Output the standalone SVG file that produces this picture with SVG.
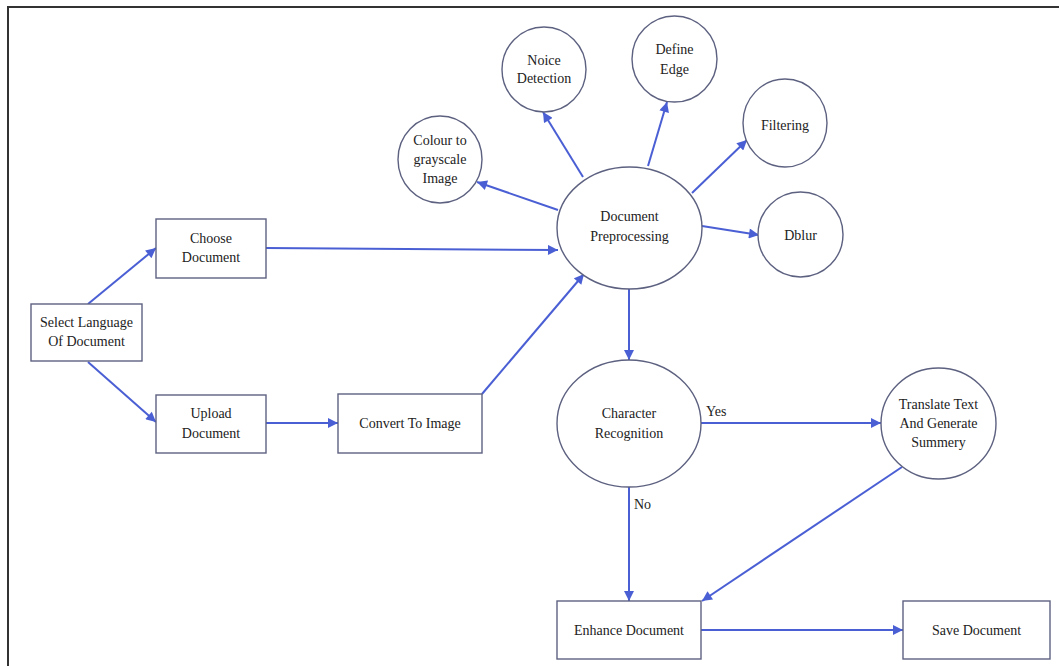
<svg xmlns="http://www.w3.org/2000/svg" width="1059" height="666" viewBox="0 0 1059 666" font-family="Liberation Serif, Times New Roman, Times, serif">
<defs>
<style>
.n{fill:#fff;stroke:#5d6180;stroke-width:1.4}
.t{font-size:14px;fill:#222;text-anchor:middle}
.c{fill:none;stroke:#4b5fd4;stroke-width:2;marker-end:url(#ah)}
.lbl{font-size:14px;fill:#222}
</style>
<marker id="ah" viewBox="0 0 10 10" refX="10" refY="5" markerWidth="11" markerHeight="10" markerUnits="userSpaceOnUse" orient="auto">
<path d="M0,0 L10,5 L0,10 z" fill="#4b5fd4"/>
</marker>
</defs>
<rect width="1059" height="666" fill="#fff"/>
<path d="M8,666 L8,7 L1059,7" fill="none" stroke="#333" stroke-width="2"/>

<g id="connectors">
<line class="c" x1="88" y1="304" x2="156" y2="248"/>
<line class="c" x1="88" y1="362" x2="156" y2="422"/>
<line class="c" x1="266" y1="248" x2="558" y2="250"/>
<line class="c" x1="266" y1="423" x2="338" y2="423"/>
<line class="c" x1="482" y1="394" x2="584" y2="274"/>
<line class="c" x1="558" y1="210" x2="477" y2="182"/>
<line class="c" x1="583" y1="177" x2="543" y2="112"/>
<line class="c" x1="648" y1="166" x2="667" y2="102"/>
<line class="c" x1="692" y1="193" x2="747" y2="140"/>
<line class="c" x1="702" y1="226" x2="759" y2="235"/>
<line class="c" x1="629" y1="289" x2="629" y2="360"/>
<line class="c" x1="701" y1="423" x2="881" y2="423"/>
<text class="lbl" x="706" y="416" font-family="Liberation Serif">Yes</text>
<line class="c" x1="629" y1="487" x2="629" y2="601"/>
<text class="lbl" x="634" y="509" font-family="Liberation Serif">No</text>
<line class="c" x1="902" y1="467" x2="702" y2="601"/>
<line class="c" x1="701" y1="630" x2="903" y2="630"/>
</g>

<g id="select-language">
<rect class="n" x="31" y="304" width="111" height="57"/>
<text class="t" x="86.5" y="327">Select Language</text>
<text class="t" x="86.5" y="346">Of Document</text>
</g>
<g id="choose-document">
<rect class="n" x="156" y="219" width="110" height="59"/>
<text class="t" x="211" y="243">Choose</text>
<text class="t" x="211" y="262">Document</text>
</g>
<g id="upload-document">
<rect class="n" x="156" y="395" width="110" height="58"/>
<text class="t" x="211" y="418">Upload</text>
<text class="t" x="211" y="438">Document</text>
</g>
<g id="convert-to-image">
<rect class="n" x="338" y="394" width="144" height="59"/>
<text class="t" x="410" y="428">Convert To Image</text>
</g>
<g id="document-preprocessing">
<ellipse class="n" cx="629.5" cy="228" rx="72.5" ry="61"/>
<text class="t" x="629.5" y="221">Document</text>
<text class="t" x="629.5" y="241">Preprocessing</text>
</g>
<g id="colour-to-grayscale">
<ellipse class="n" cx="440" cy="159.5" rx="42" ry="43.5"/>
<text class="t" x="440" y="145">Colour to</text>
<text class="t" x="440" y="164">grayscale</text>
<text class="t" x="440" y="183">Image</text>
</g>
<g id="noice-detection">
<ellipse class="n" cx="544" cy="69.5" rx="42" ry="42.5"/>
<text class="t" x="544" y="65">Noice</text>
<text class="t" x="544" y="83">Detection</text>
</g>
<g id="define-edge">
<ellipse class="n" cx="674.5" cy="59" rx="42.5" ry="43"/>
<text class="t" x="674.5" y="54">Define</text>
<text class="t" x="674.5" y="74">Edge</text>
</g>
<g id="filtering">
<ellipse class="n" cx="785" cy="123" rx="42" ry="44"/>
<text class="t" x="785" y="130">Filtering</text>
</g>
<g id="dblur">
<ellipse class="n" cx="800.5" cy="234.5" rx="42.5" ry="42.5"/>
<text class="t" x="800.5" y="240">Dblur</text>
</g>
<g id="character-recognition">
<ellipse class="n" cx="629" cy="423.5" rx="72" ry="63.5"/>
<text class="t" x="629" y="418">Character</text>
<text class="t" x="629" y="438">Recognition</text>
</g>
<g id="translate-text">
<ellipse class="n" cx="938.5" cy="423.5" rx="57.5" ry="55.5"/>
<text class="t" x="938.5" y="409">Translate Text</text>
<text class="t" x="938.5" y="428">And Generate</text>
<text class="t" x="938.5" y="447">Summery</text>
</g>
<g id="enhance-document">
<rect class="n" x="557" y="601" width="144" height="58"/>
<text class="t" x="629" y="635">Enhance Document</text>
</g>
<g id="save-document">
<rect class="n" x="903" y="601" width="147" height="58"/>
<text class="t" x="976.5" y="635">Save Document</text>
</g>
</svg>
